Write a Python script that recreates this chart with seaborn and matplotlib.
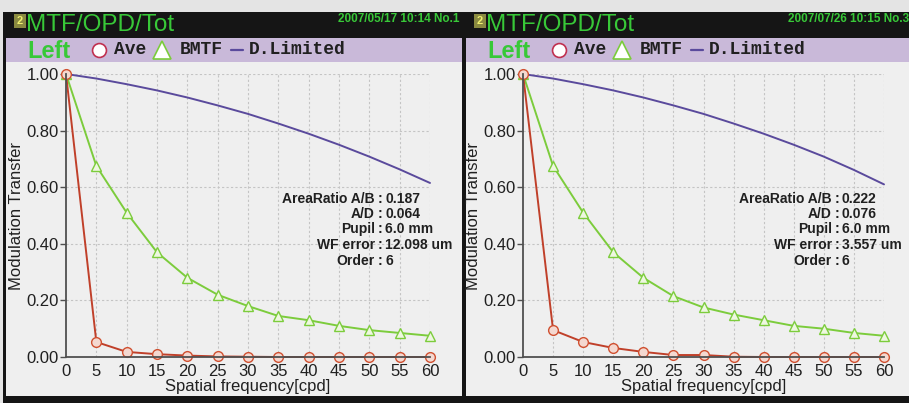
import numpy as np
import pandas as pd
import matplotlib
matplotlib.use("Agg")
import matplotlib.pyplot as plt
import seaborn as sns
from matplotlib.patches import Rectangle
from matplotlib.lines import Line2D

# ---------------- data ----------------
freq = [0, 5, 10, 15, 20, 25, 30, 35, 40, 45, 50, 55, 60]

left_ave = [1.00, 0.053, 0.018, 0.010, 0.005, 0.002, 0.001, 0.000, 0.000, 0.000, 0.000, 0.000, 0.000]
left_bmtf = [1.00, 0.675, 0.510, 0.370, 0.280, 0.220, 0.180, 0.145, 0.130, 0.110, 0.095, 0.085, 0.075]
left_dlim = [1.00, 0.984, 0.964, 0.942, 0.917, 0.889, 0.859, 0.825, 0.789, 0.750, 0.708, 0.663, 0.615]

right_ave = [1.00, 0.095, 0.053, 0.032, 0.018, 0.007, 0.007, 0.001, 0.000, 0.000, 0.000, 0.000, 0.000]
right_bmtf = [1.00, 0.675, 0.510, 0.370, 0.280, 0.215, 0.175, 0.150, 0.130, 0.110, 0.100, 0.085, 0.075]
right_dlim = [1.00, 0.984, 0.964, 0.942, 0.917, 0.889, 0.859, 0.825, 0.789, 0.750, 0.708, 0.661, 0.610]

yticks = [0.0, 0.2, 0.4, 0.6, 0.8, 1.0]
ytick_labels = ["0.00", "0.20", "0.40", "0.60", "0.80", "1.00"]
xticks = freq

info_keys = ["AreaRatio A/B", "A/D", "Pupil", "WF error", "Order"]
left_info_vals = ["0.187", "0.064", "6.0 mm", "12.098 um", "6"]
right_info_vals = ["0.222", "0.076", "6.0 mm", "3.557 um", "6"]

left_date = "2007/05/17 10:14 No.1"
right_date = "2007/07/26 10:15 No.3"

# ---------------- style ----------------
sns.set_style("white")
plt.rcParams["font.family"] = ["Liberation Sans", "DejaVu Sans"]

W, H = 909, 403
fig = plt.figure(figsize=(W / 100, H / 100), dpi=100, facecolor="#e4e4e4")

def fx(x):
    return x / W

def fy(y):
    return 1 - y / H

def rect(x0, y0, x1, y1, color, z=0):
    fig.patches.append(Rectangle((fx(x0), fy(y1)), fx(x1 - x0), (y1 - y0) / H,
                                 transform=fig.transFigure, facecolor=color,
                                 edgecolor="none", zorder=z))

C_AVE = "#c0402a"
C_BMTF = "#7ccc3c"
C_DLIM = "#5a4a9c"
GREEN = "#38c838"
MONO = ["Liberation Mono", "DejaVu Sans Mono"]
INFO_ROWS = [199, 214, 229, 245, 261]

def panel(px0, px1, ax_x0, ax_x1, ave, bmtf, dlim, vals, date, key_right):
    # frame / backgrounds
    rect(px0 - 3, 12, px1 + 3, 403, "#151515", z=0)
    rect(px0, 38, px1, 62, "#c9b9d9", z=1)
    rect(px0, 62, px1, 396, "#efefef", z=1)
    # "2" box
    rect(px0 + 8, 14, px0 + 20, 28, "#8a8a40", z=2)
    fig.text(fx(px0 + 14), fy(21), "2", color="#f0f070", fontsize=8, fontweight="bold",
             ha="center", va="center", zorder=3)
    fig.text(fx(px0 + 20), fy(25), "MTF/OPD/Tot", color=GREEN, fontsize=17.5,
             ha="left", va="center", zorder=3)
    fig.text(fx(px1 - 3), fy(19), date, color=GREEN, fontsize=8.5, fontweight="bold",
             ha="right", va="center", zorder=3)
    fig.text(fx(px0 + 21), fy(51), "Left", color=GREEN, fontsize=17, fontweight="bold",
             ha="left", va="center", zorder=3)
    # legend
    lx = px0 + 93
    fig.lines.append(Line2D([fx(lx)], [fy(50)], transform=fig.transFigure, marker="o",
                            markersize=10, markerfacecolor="white", markeredgecolor="#c03050",
                            markeredgewidth=1.2, linestyle="none", zorder=3))
    fig.text(fx(lx + 15), fy(50), "Ave", family=MONO,
             fontweight="bold", fontsize=13, color="#202020", va="center", zorder=3)
    fig.lines.append(Line2D([fx(lx + 63)], [fy(50)], transform=fig.transFigure, marker="^",
                            markersize=13, markerfacecolor="white", markeredgecolor=C_BMTF,
                            markeredgewidth=1.2, linestyle="none", zorder=3))
    fig.text(fx(lx + 81), fy(50), "BMTF", family=MONO,
             fontweight="bold", fontsize=13, color="#202020", va="center", zorder=3)
    fig.lines.append(Line2D([fx(lx + 132), fx(lx + 144)], [fy(50), fy(50)],
                            transform=fig.transFigure, color=C_DLIM, lw=1.6, zorder=3))
    fig.text(fx(lx + 150), fy(50), "D.Limited", family=MONO,
             fontweight="bold", fontsize=13, color="#202020", va="center", zorder=3)

    ax = fig.add_axes([fx(ax_x0), fy(357), fx(ax_x1 - ax_x0), (357 - 74) / H])
    ax.set_facecolor("none")
    ax.set_zorder(5)
    df = pd.DataFrame({"freq": freq, "ave": ave, "bmtf": bmtf, "dlim": dlim})
    sns.lineplot(data=df, x="freq", y="dlim", ax=ax, color=C_DLIM, lw=1.4, clip_on=False)
    sns.lineplot(data=df, x="freq", y="bmtf", ax=ax, color=C_BMTF, lw=1.4, marker="^",
                 markersize=7, markerfacecolor="#eef7e0", markeredgecolor=C_BMTF,
                 markeredgewidth=1.0, clip_on=False)
    sns.lineplot(data=df, x="freq", y="ave", ax=ax, color=C_AVE, lw=1.4, marker="o",
                 markersize=7, markerfacecolor="#f4d8d0", markeredgecolor="#d05030",
                 markeredgewidth=1.0, clip_on=False)
    ax.set_xlim(0, 60)
    ax.set_ylim(0, 1.0)
    ax.set_xticks(xticks)
    ax.set_xticklabels([str(v) for v in xticks], fontsize=12, color="#202020")
    ax.set_yticks(yticks)
    ax.set_yticklabels(ytick_labels, fontsize=12, color="#202020")
    ax.tick_params(axis="x", length=0, pad=5)
    ax.tick_params(axis="y", length=4, width=1, color="#505050", pad=1, direction="out", left=True)
    for v in xticks[1:]:
        ax.axvline(v, color="#c4c4c4", lw=0.8, ls=(0, (2, 2)), zorder=0)
    for v in yticks[1:]:
        ax.axhline(v, color="#c4c4c4", lw=0.8, ls=(0, (2, 2)), zorder=0)
    for s in ["top", "right"]:
        ax.spines[s].set_visible(False)
    for s in ["left", "bottom"]:
        ax.spines[s].set_color("#505050")
        ax.spines[s].set_linewidth(1.3)
    ax.set_xlabel("Spatial frequency[cpd]", fontsize=12, color="#202020", labelpad=0)
    ax.set_ylabel("Modulation Transfer", fontsize=12, color="#202020", labelpad=2)

    # info block
    for y, k, v in zip(INFO_ROWS, info_keys, vals):
        fig.text(fx(key_right), fy(y), k, fontsize=10, fontweight="bold", color="#202020",
                 ha="right", va="center", zorder=6)
        fig.text(fx(key_right + 3), fy(y), ":", fontsize=10, fontweight="bold", color="#202020",
                 ha="left", va="center", zorder=6)
        fig.text(fx(key_right + 10), fy(y), v, fontsize=10, fontweight="bold", color="#202020",
                 ha="left", va="center", zorder=6)

panel(6, 462, 66, 430, left_ave, left_bmtf, left_dlim, left_info_vals, left_date, 375)
panel(466, 912, 523, 884, right_ave, right_bmtf, right_dlim, right_info_vals, right_date, 832)

fig.savefig("out.png", dpi=100, facecolor=fig.get_facecolor())
